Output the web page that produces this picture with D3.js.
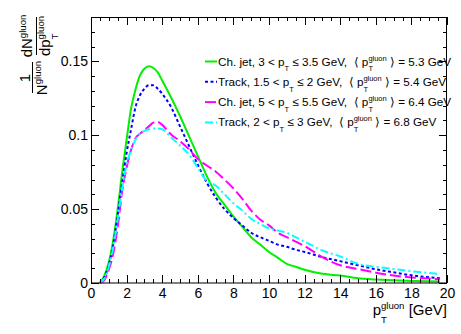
<!doctype html>
<html>
<head>
<script src="https://d3js.org/d3.v7.min.js"></script>
<style>
  body { margin: 0; background: #fff; }
  svg text { font-family: "Liberation Sans", Arial, sans-serif; white-space: pre; }
</style>
</head>
<body>
<script>
// p_T^gluon grid [GeV]
var pt = [0.5, 0.75, 1, 1.25, 1.5, 1.75, 2, 2.25, 2.5, 2.75, 3, 3.25, 3.5, 3.75, 4, 4.5, 5, 5.5, 6, 6.5,
          7, 7.5, 8, 8.5, 9, 9.5, 10, 10.5, 11, 11.5, 12, 13, 14, 15, 16, 17, 18, 19, 19.6];

var chJet3 = [0, 0.005, 0.014, 0.029, 0.05, 0.075, 0.097, 0.118, 0.131, 0.1405, 0.145, 0.1466, 0.1455, 0.1425, 0.137, 0.1255, 0.113, 0.0995, 0.086, 0.0725,
              0.061, 0.053, 0.045, 0.038, 0.031, 0.026, 0.021, 0.017, 0.013, 0.011, 0.009, 0.0062, 0.005, 0.0032, 0.0024, 0.0018, 0.0014, 0.0011, 0.001];
var track15 = [0, 0.004, 0.012, 0.026, 0.046, 0.068, 0.088, 0.104, 0.119, 0.127, 0.1315, 0.1338, 0.1338, 0.1315, 0.128, 0.119, 0.106, 0.093, 0.08, 0.068,
               0.058, 0.05, 0.044, 0.039, 0.034, 0.031, 0.0285, 0.026, 0.0245, 0.0225, 0.021, 0.0175, 0.0148, 0.012, 0.0093, 0.0072, 0.0052, 0.0038, 0.0032];
var chJet5 = [0, 0.002, 0.009, 0.02, 0.038, 0.062, 0.078, 0.09, 0.098, 0.101, 0.1035, 0.106, 0.1085, 0.109, 0.107, 0.1005, 0.096, 0.0905, 0.084, 0.0795,
              0.0755, 0.07, 0.064, 0.057, 0.049, 0.043, 0.039, 0.034, 0.031, 0.028, 0.025, 0.0175, 0.012, 0.0095, 0.007, 0.005, 0.0038, 0.003, 0.0025];
var track2 = [0, 0.003, 0.011, 0.024, 0.043, 0.064, 0.08, 0.09, 0.097, 0.101, 0.103, 0.104, 0.1045, 0.1045, 0.104, 0.0985, 0.093, 0.087, 0.078, 0.069,
              0.066, 0.06, 0.054, 0.049, 0.0435, 0.04, 0.037, 0.0355, 0.034, 0.031, 0.028, 0.022, 0.018, 0.013, 0.011, 0.0095, 0.008, 0.0068, 0.0061];

var kinds = ["Ch. jet", "Track", "Ch. jet", "Track"];
var ptLow = ["3", "1.5", "5", "2"];
var ptHigh = ["3.5", "2", "5.5", "3"];
var meanPt = ["5.3", "5.4", "6.4", "6.8"];

var xTicks = [0, 2, 4, 6, 8, 10, 12, 14, 16, 18, 20];
var yTicks = [0, 0.05, 0.1, 0.15];

var colors = ["#00f000", "#0000ff", "#ff00ff", "#00ffff"];
var dashes = [null, "3,2.5", "11,4", "8,3,2,3"];

var W = 461, H = 334;
var svg = d3.select("body").append("svg").attr("width", W).attr("height", H);

var x = d3.scaleLinear().domain([0, 20]).range([91, 447]);
var y = d3.scaleLinear().domain([0, 0.18]).range([283, 17]);

// little latex-ish helper: p_{T}^{gluon}
function latex(text, str, fs) {
  var small = fs * 0.64, cur = 0, m;
  var subOff = fs * 0.5, supOff = -fs * 0.42;
  var re = /_\{([^}]*)\}\^\{([^}]*)\}|_\{([^}]*)\}|\^\{([^}]*)\}|[^_^]+/g;
  function put(t, off, size, dx) {
    var ts = text.append("tspan").attr("dy", off - cur).attr("font-size", size).text(t);
    if (dx) ts.attr("dx", dx);
    cur = off;
    return ts;
  }
  while ((m = re.exec(str))) {
    if (m[1] !== undefined) {
      var w = put(m[1], subOff, small).node().getComputedTextLength();
      put(m[2], supOff, small, -w);
    } else if (m[3] !== undefined) put(m[3], subOff, small);
    else if (m[4] !== undefined) put(m[4], supOff, small);
    else put(m[0], 0, fs);
  }
}

// curves
var series = [chJet3, track15, chJet5, track2];
var line = d3.line().x(function(d, i) { return x(pt[i]); }).y(function(d) { return y(d); }).curve(d3.curveMonotoneX);

series.forEach(function(vals, k) {
  svg.append("path").datum(vals)
    .attr("d", line)
    .attr("fill", "none")
    .attr("stroke", colors[k])
    .attr("stroke-width", 2)
    .attr("stroke-dasharray", dashes[k]);
});

// axes (ROOT style, ticks inside on all four sides)
function styleAxis(g) {
  g.select(".domain").remove();
  g.selectAll(".tick line").attr("stroke", "#000").attr("shape-rendering", "crispEdges");
  g.selectAll("text").attr("font-size", 14).attr("fill", "#000").attr("font-family", "Liberation Sans, Arial, sans-serif");
}
var minorX = d3.range(0, 20.01, 0.5), minorY = d3.range(0, 0.1801, 0.01);

svg.append("g").attr("transform", "translate(0,283)")
  .call(d3.axisBottom(x).tickValues(minorX).tickSize(-4).tickFormat("")).call(styleAxis);
svg.append("g").attr("transform", "translate(0,283)")
  .call(d3.axisBottom(x).tickValues(xTicks).tickSize(-8).tickPadding(5).tickFormat(d3.format("d"))).call(styleAxis);
svg.append("g").attr("transform", "translate(0,17)")
  .call(d3.axisTop(x).tickValues(minorX).tickSize(-4).tickFormat("")).call(styleAxis);
svg.append("g").attr("transform", "translate(0,17)")
  .call(d3.axisTop(x).tickValues(xTicks).tickSize(-8).tickFormat("")).call(styleAxis);

svg.append("g").attr("transform", "translate(91,0)")
  .call(d3.axisLeft(y).tickValues(minorY).tickSize(-4).tickFormat("")).call(styleAxis);
svg.append("g").attr("transform", "translate(91,0)")
  .call(d3.axisLeft(y).tickValues(yTicks).tickSize(-8).tickPadding(3).tickFormat(function(d) { return d === 0 ? "0" : String(d); })).call(styleAxis);
svg.append("g").attr("transform", "translate(447,0)")
  .call(d3.axisRight(y).tickValues(minorY).tickSize(-4).tickFormat("")).call(styleAxis);
svg.append("g").attr("transform", "translate(447,0)")
  .call(d3.axisRight(y).tickValues(yTicks).tickSize(-8).tickFormat("")).call(styleAxis);

svg.append("rect").attr("x", 91.5).attr("y", 17.5).attr("width", 355).attr("height", 265.5)
  .attr("fill", "none").attr("stroke", "#000").attr("stroke-width", 1);

// x title
var xt = svg.append("text").attr("x", 447).attr("y", 315).attr("text-anchor", "end").attr("fill", "#000");
latex(xt, "p_{T}^{gluon} [GeV]", 15);

// y title: 1/N^gluon dN^gluon/dp_T^gluon, rotated
var yg = svg.append("g").attr("transform", "rotate(-90)");
function yText(cx, base, str, fs) {
  var t = yg.append("text").attr("x", -cx).attr("y", base).attr("text-anchor", "middle").attr("fill", "#000");
  latex(t, str, fs);
}
yText(78, 30, "1", 15);
yText(78, 47, "N^{gluon}", 15);
yg.append("line").attr("x1", -93).attr("x2", -62).attr("y1", 32.5).attr("y2", 32.5).attr("stroke", "#000").attr("stroke-width", 1);
yText(36, 32, "dN^{gluon}", 15);
yText(36, 50, "dp_{T}^{gluon}", 15);
yg.append("line").attr("x1", -55).attr("x2", -17).attr("y1", 36.5).attr("y2", 36.5).attr("stroke", "#000").attr("stroke-width", 1);

// legend
kinds.forEach(function(kd, k) {
  var cy = 61.5 + k * 20.3;
  svg.append("line").attr("x1", 205).attr("x2", 217).attr("y1", cy).attr("y2", cy)
    .attr("stroke", colors[k]).attr("stroke-width", 2).attr("stroke-dasharray", dashes[k]);
  var t = svg.append("text").attr("x", 218).attr("y", cy + 4).attr("fill", "#000");
  latex(t, kd + ", " + ptLow[k] + " < p_{T} \u2264 " + ptHigh[k] + " GeV,  \u27e8 p_{T}^{gluon} \u27e9 = " + meanPt[k] + " GeV", 11.7);
});
</script>
</body>
</html>
